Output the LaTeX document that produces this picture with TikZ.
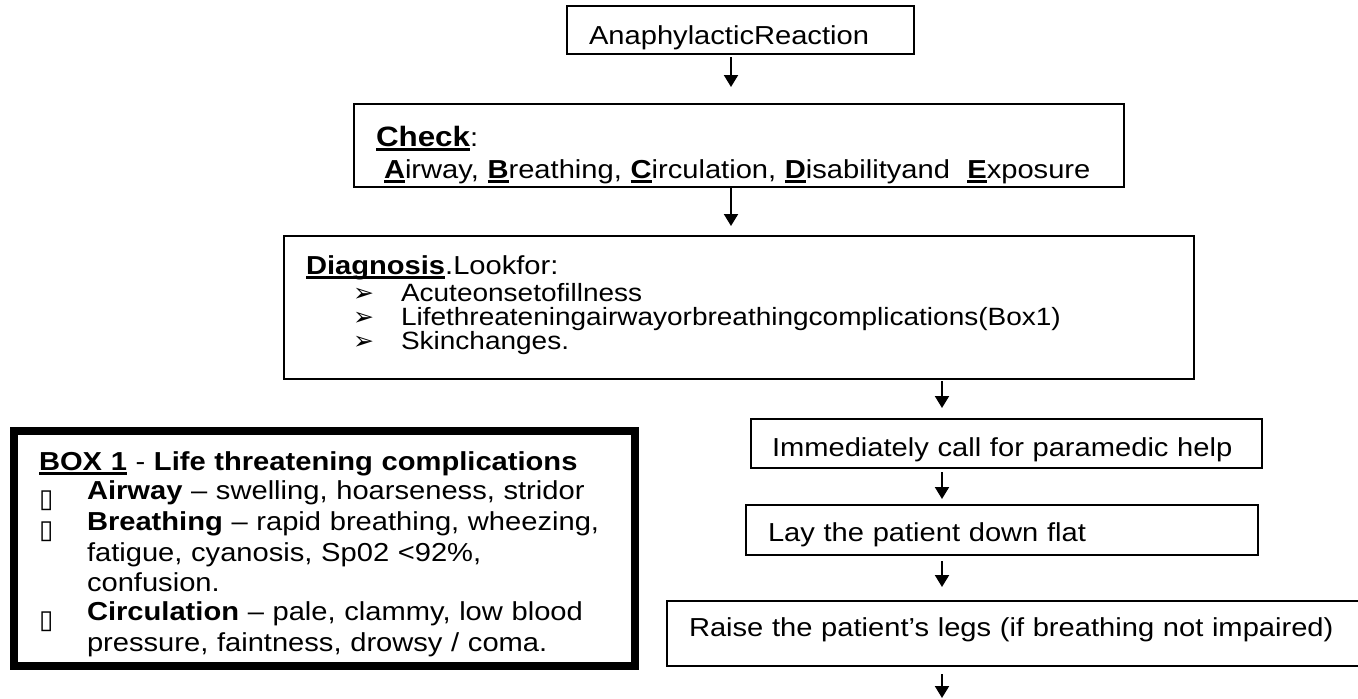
\documentclass[tikz,border=0pt]{standalone}
\usepackage{fontspec}
\setmainfont{Liberation Sans}[FakeStretch=1.12]
\newfontfamily\dejavu{DejaVu Sans}
\usepackage{tikz}
\usetikzlibrary{arrows.meta}

\newcommand\ulword[1]{\setbox0\hbox{#1}\rlap{\rule[-4.5pt]{\wd0}{2.5pt}}\box0}
\newcommand\padtop[1]{\rule{0pt}{#1}}
\newcommand\padbot[1]{\rule[-#1]{0pt}{#1}}
\newcommand\sqbul{\makebox[48pt][l]{\raisebox{-8pt}{\dejavu\fontsize{26}{26}\selectfont ▯}}}
\newcommand\arrbul{\hspace*{47pt}\makebox[48pt][l]{\dejavu\fontsize{25}{24}\selectfont ➢}}

\begin{document}
\begin{tikzpicture}[x=1pt,y=1pt,
    stepbox/.style={draw,line width=2pt,anchor=north west,align=left,inner ysep=0pt,
        font=\fontsize{26}{29.5}\selectfont},
    arrow/.style={-{Triangle[length=12pt,width=14pt]},line width=2pt}
]
\useasboundingbox (0,0) rectangle (1358,-699);

\node[stepbox,text width=347pt,inner xsep=0pt] (ana) at (566,-5)
    {\hspace*{22pt}\padtop{38pt}AnaphylacticReaction\padbot{10pt}};
\node[stepbox,text width=726pt,inner xsep=22pt,font=\fontsize{26}{32}\selectfont] (check) at (353,-103)
    {\padtop{42pt}{\fontsize{28}{32}\selectfont\bfseries\ulword{Check}}:\\
     \hspace*{8pt}\textbf{\ulword{A}}irway, \textbf{\ulword{B}}reathing, \textbf{\ulword{C}}irculation,
     \textbf{\ulword{D}}isabilityand\ \ \textbf{\ulword{E}}xposure\padbot{9pt}};
\node[stepbox,text width=866pt,inner xsep=22pt,
      font={\fontsize{25}{24}\selectfont\lineskiplimit=-100pt}] (diag) at (283,-235)
    {\padtop{38pt}{\fontsize{26}{24}\selectfont\textbf{\ulword{Diagnosis}}.Lookfor:}\\[3pt]
     \arrbul Acuteonsetofillness\\
     \arrbul Lifethreateningairwayorbreathingcomplications(Box1)\\
     \arrbul Skinchanges.\padbot{30pt}};

% box 1 on the left
\node[stepbox,line width=8pt,text width=571pt,inner xsep=25pt] (box1) at (10,-427)
    {\padtop{39pt}\textbf{\ulword{BOX 1}} - \textbf{Life threatening complications}\\
     \sqbul\textbf{Airway} – swelling, hoarseness, stridor\\
     \sqbul\textbf{Breathing} – rapid breathing, wheezing,\\
     \hspace*{48pt}fatigue, cyanosis, Sp02 <92\%,\\
     \hspace*{48pt}confusion.\\
     \sqbul\textbf{Circulation} – pale, clammy, low blood\\
     \hspace*{48pt}pressure, faintness, drowsy / coma.\padbot{14pt}};

% actions
\node[stepbox,text width=511pt,inner xsep=0pt] (call) at (750,-418)
    {\hspace*{21pt}\padtop{37pt}Immediately call for paramedic help\padbot{12pt}};
\node[stepbox,text width=512pt,inner xsep=0pt] (flat) at (745,-504)
    {\hspace*{22pt}\padtop{36pt}Lay the patient down flat\padbot{14pt}};
\node[stepbox,text width=699pt,inner xsep=0pt] (legs) at (666,-600)
    {\hspace*{22pt}\padtop{35pt}Raise the patient’s legs (if breathing not impaired)\padbot{30pt}};

\coordinate (spine) at (731,0);
\coordinate (rspine) at (942,0);
\coordinate (next) at (942,-698);
\draw[arrow,shorten <=2pt,shorten >=16pt] (ana.south -| spine) -- (check.north -| spine);
\draw[arrow,shorten >=9pt] (check.south -| spine) -- (diag.north -| spine);
\draw[arrow,shorten <=1pt,shorten >=10pt] (diag.south -| rspine) -- (call.north -| rspine);
\draw[arrow,shorten <=3pt,shorten >=5pt] (call.south -| rspine) -- (flat.north -| rspine);
\draw[arrow,shorten <=5pt,shorten >=13pt] (flat.south -| rspine) -- (legs.north -| rspine);
\draw[arrow,shorten <=7pt] (legs.south -| rspine) -- (next);
\end{tikzpicture}
\end{document}
